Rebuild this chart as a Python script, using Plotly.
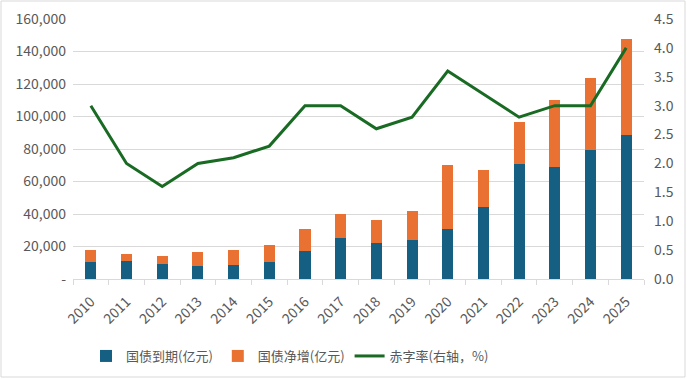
import plotly.graph_objects as go

years = [str(y) for y in range(2010, 2026)]
maturity = [10400, 11000, 9200, 8000, 8600, 10400, 17100, 25100, 22000, 23900,
            30600, 44100, 71000, 69200, 79600, 88700]
total = [17750, 15300, 14100, 16500, 17750, 20800, 30600, 39800, 36100, 41600,
         70400, 67300, 96700, 110200, 123600, 147500]
net_increase = [t - m for t, m in zip(total, maturity)]
deficit = [3.0, 2.0, 1.6, 2.0, 2.1, 2.3, 3.0, 3.0, 2.6, 2.8, 3.6, 3.2, 2.8, 3.0, 3.0, 4.0]

left_ticks = [0, 20000, 40000, 60000, 80000, 100000, 120000, 140000, 160000]
left_labels = ["-", "20,000", "40,000", "60,000", "80,000", "100,000", "120,000", "140,000", "160,000"]
right_ticks = [0, 0.5, 1.0, 1.5, 2.0, 2.5, 3.0, 3.5, 4.0, 4.5]

FONT = "Noto Sans CJK SC"
W, H = 687, 379
ml, mr, mt, mb = 73, 43, 19, 100
pw, ph = W - ml - mr, H - mt - mb

fig = go.Figure()
fig.add_trace(go.Bar(x=years, y=maturity, name="国债到期(亿元)", marker_color="#156082",
                     marker_line_width=0))
fig.add_trace(go.Bar(x=years, y=net_increase, name="国债净增(亿元)", marker_color="#E97132",
                     marker_line_width=0))
fig.add_trace(go.Scatter(x=years, y=deficit, name="赤字率(右轴，%)", yaxis="y2", mode="lines",
                         line=dict(color="#196B24", width=3)))

fig.update_layout(
    width=W, height=H,
    margin=dict(l=ml, r=mr, t=mt, b=mb, autoexpand=False),
    paper_bgcolor="white", plot_bgcolor="white",
    barmode="stack", bargap=0.69,
    font=dict(family=FONT, size=13, color="#595959"),
    xaxis=dict(type="category", tickangle=-45, showgrid=False, showline=True, automargin=False,
               linecolor="#D9D9D9", linewidth=1, ticks="outside", tickson="boundaries",
               ticklen=5, tickcolor="#D9D9D9", ticklabelstandoff=8,
               tickfont=dict(size=14, color="#595959")),
    yaxis=dict(range=[0, 160000], tickvals=left_ticks, ticktext=left_labels, automargin=False,
               showgrid=True, gridcolor="#D9D9D9", gridwidth=1, zeroline=False,
               showline=False, ticks="", ticklabelstandoff=6,
               tickfont=dict(size=14, color="#595959")),
    yaxis2=dict(range=[0, 4.5], tickvals=right_ticks, tickformat=".1f", overlaying="y",
                side="right", showgrid=False, zeroline=False, showline=False, automargin=False,
                ticklabelstandoff=9, tickfont=dict(size=14, color="#595959")),
    legend=dict(orientation="h", x=(290 - ml) / pw, xanchor="center", y=(H - mb - 341) / ph,
                yanchor="top", font=dict(size=13, color="#595959"), traceorder="normal",
                itemwidth=30),
    shapes=[dict(type="rect", xref="paper", yref="paper",
                 x0=(1 - ml) / pw, x1=(685 - ml) / pw,
                 y0=(H - mb - 377) / ph, y1=(H - mb - 1) / ph,
                 line=dict(color="#D9D9D9", width=1), fillcolor="rgba(0,0,0,0)", layer="below")],
)

fig.write_html("out.html", config={"displayModeBar": False},
               post_script="document.body.style.margin='0';document.body.style.overflow='hidden';")
